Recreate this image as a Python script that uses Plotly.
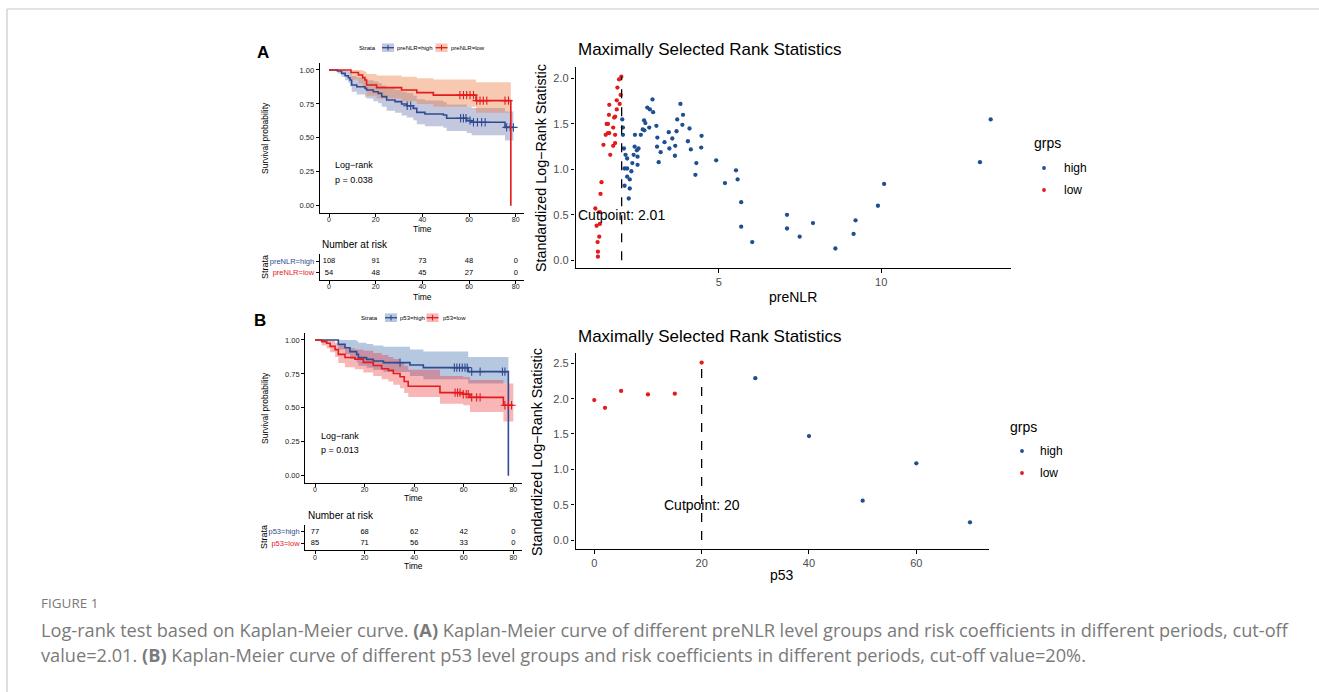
import plotly.graph_objects as go

W, H = 1319, 692
def PX(x): return x / W
def PY(y): return 1 - y / H

FONT = "Liberation Sans, Arial, sans-serif"

# ---------------- Panel A: Kaplan-Meier (preNLR) ----------------
A_high_t = [0, 3.6, 5.4, 6.9, 8.3, 9.0, 9.7, 11.9, 15.4, 16.1, 19.0, 21.1, 22.6, 24.7, 28.3, 31.1, 33.3, 36.1, 37.6, 41.1, 49.0, 50.4, 59.0, 61.1, 75.4, 79.0]
A_high_s = [1.0, 0.993, 0.975, 0.958, 0.943, 0.926, 0.889, 0.877, 0.865, 0.853, 0.840, 0.828, 0.804, 0.779, 0.767, 0.749, 0.737, 0.717, 0.688, 0.676, 0.668, 0.644, 0.627, 0.615, 0.577, 0.577]
A_high_lo = [1.0, 0.975, 0.95, 0.925, 0.905, 0.88, 0.84, 0.82, 0.80, 0.79, 0.77, 0.755, 0.73, 0.70, 0.685, 0.665, 0.65, 0.63, 0.60, 0.585, 0.575, 0.55, 0.535, 0.52, 0.48, 0.48]
A_high_hi = [1.0, 1.0, 1.0, 0.995, 0.99, 0.98, 0.955, 0.945, 0.935, 0.925, 0.915, 0.905, 0.885, 0.865, 0.855, 0.84, 0.83, 0.81, 0.785, 0.775, 0.765, 0.745, 0.73, 0.72, 0.695, 0.695]
A_high_cens = [33.5, 35.0, 56.4, 57.6, 58.7, 60.4, 61.9, 63.6, 65.4, 66.9, 76.1, 77.6, 79.0]

A_low_t = [0, 9.4, 12.6, 14.4, 15.4, 16.1, 20.4, 31.1, 37.6, 44.7, 63.0, 77.9]
A_low_s = [1.0, 0.981, 0.963, 0.944, 0.926, 0.889, 0.870, 0.852, 0.833, 0.815, 0.774, 0.0]
A_low_hi = [1.0, 1.0, 1.0, 0.995, 0.985, 0.97, 0.96, 0.95, 0.94, 0.93, 0.91, 0.91]
A_low_lo = [1.0, 0.93, 0.90, 0.87, 0.85, 0.81, 0.79, 0.77, 0.75, 0.73, 0.685, 0.685]
A_low_cens = [56.1, 57.6, 59.0, 60.4, 61.9, 63.3, 64.7, 66.1, 67.6, 75.4, 76.9]

A_risk_times = [0, 20, 40, 60, 80]
A_risk_high = [108, 91, 73, 48, 0]
A_risk_low = [54, 48, 45, 27, 0]
A_pval = "p = 0.038"

# ---------------- Panel A: maximally selected rank statistics ----------------
A_cut = 2.01
A_rank_low_x = [2.00, 1.93, 1.88, 1.98, 1.86, 1.95, 1.63, 1.86, 1.62, 1.81, 1.78, 1.55, 1.59, 1.75, 1.59, 1.63, 1.52, 1.81, 1.45, 1.75, 1.81, 1.66, 1.39, 1.36, 1.20, 1.34, 1.34, 1.24, 1.32, 1.27, 1.28, 1.28]
A_rank_low_y = [2.02, 1.99, 1.90, 1.82, 1.76, 1.72, 1.71, 1.66, 1.60, 1.58, 1.57, 1.50, 1.50, 1.46, 1.40, 1.40, 1.38, 1.38, 1.27, 1.26, 1.29, 1.16, 0.86, 0.73, 0.57, 0.53, 0.40, 0.38, 0.26, 0.20, 0.095, 0.04]
A_rank_high_x = [2.03, 2.05, 2.05, 2.08, 2.13, 2.18, 2.10, 2.18, 2.10, 2.18, 2.26, 2.26, 2.23, 2.31, 2.34, 2.38, 2.42, 2.41, 2.48, 2.53, 2.50, 2.50, 2.60, 2.66, 2.70, 2.74, 2.71, 2.80, 2.88, 2.98, 2.96, 2.86, 3.08, 3.11, 3.10, 3.15, 3.21, 3.33, 3.46, 3.48, 3.57, 3.66, 3.65, 3.70, 3.72, 3.82, 3.88, 3.90, 4.05, 4.10, 4.14, 4.31, 4.28, 4.47, 4.46, 4.92, 5.19, 5.53, 5.58, 5.69, 5.69, 6.03, 7.10, 7.10, 7.49, 7.90, 8.59, 9.15, 9.21, 9.90, 10.09, 13.04, 13.37]
A_rank_high_y = [1.55, 1.46, 1.38, 1.23, 1.16, 1.12, 1.01, 1.01, 0.82, 0.92, 0.89, 0.79, 0.68, 0.98, 1.07, 1.16, 1.38, 1.25, 1.21, 1.23, 1.05, 1.14, 1.38, 1.44, 1.54, 1.51, 1.43, 1.68, 1.66, 1.63, 1.77, 1.46, 1.48, 1.35, 1.25, 1.08, 1.19, 1.30, 1.41, 1.23, 1.34, 1.26, 1.15, 1.42, 1.55, 1.72, 1.49, 1.60, 1.31, 1.45, 1.22, 1.07, 0.94, 1.37, 1.24, 1.10, 0.85, 0.99, 0.89, 0.64, 0.37, 0.20, 0.50, 0.35, 0.26, 0.41, 0.13, 0.29, 0.44, 0.60, 0.84, 1.08, 1.55]

# ---------------- Panel B: Kaplan-Meier (p53) ----------------
B_high_t = [0, 9.4, 12.1, 14.1, 16.8, 17.5, 20.8, 23.5, 27.6, 38.3, 43.7, 61.8, 78.0]
B_high_s = [1.0, 0.968, 0.943, 0.914, 0.894, 0.870, 0.857, 0.845, 0.833, 0.816, 0.796, 0.767, 0.0]
B_high_hi = [1.0, 1.0, 1.0, 1.0, 0.99, 0.98, 0.97, 0.96, 0.95, 0.93, 0.915, 0.875, 0.875]
B_high_lo = [1.0, 0.93, 0.895, 0.86, 0.835, 0.81, 0.795, 0.78, 0.765, 0.735, 0.71, 0.68, 0.68]
B_high_cens = [34.3, 56.2, 57.2, 58.3, 59.4, 60.5, 61.4, 63.2, 66.6, 75.6, 76.6]

B_low_t = [0, 2.7, 4.7, 6.1, 8.1, 9.4, 12.1, 16.1, 19.5, 23.5, 26.9, 29.6, 31.6, 34.3, 36.0, 37.6, 50.4, 59.8, 62.5, 76.0, 80.0]
B_low_s = [1.0, 0.988, 0.976, 0.953, 0.929, 0.894, 0.871, 0.859, 0.835, 0.812, 0.788, 0.776, 0.753, 0.729, 0.694, 0.659, 0.612, 0.600, 0.577, 0.519, 0.519]
B_low_hi = [1.0, 1.0, 1.0, 0.995, 0.98, 0.96, 0.94, 0.93, 0.92, 0.905, 0.89, 0.875, 0.86, 0.835, 0.81, 0.78, 0.735, 0.725, 0.705, 0.68, 0.68]
B_low_lo = [1.0, 0.96, 0.94, 0.91, 0.875, 0.83, 0.80, 0.785, 0.76, 0.735, 0.71, 0.695, 0.67, 0.645, 0.61, 0.58, 0.53, 0.52, 0.47, 0.40, 0.40]
B_low_cens = [56.5, 57.5, 58.5, 59.8, 61.0, 61.8, 63.2, 65.2, 66.6, 76.6, 78.0, 79.3]

B_risk_times = [0, 20, 40, 60, 80]
B_risk_high = [77, 68, 62, 42, 0]
B_risk_low = [85, 71, 56, 33, 0]
B_pval = "p = 0.013"

# ---------------- Panel B: maximally selected rank statistics ----------------
B_cut = 20
B_rank_x = [0, 2, 5, 10, 15, 20, 30, 40, 50, 60, 70]
B_rank_y = [1.98, 1.87, 2.11, 2.06, 2.07, 2.51, 2.29, 1.47, 0.556, 1.085, 0.25]

# ---------------- colours ----------------
KM_BLUE = "#2E4B8F"
KM_RED = "#E41A1C"
A_BLUE_FILL = "rgba(60,72,150,0.30)"
A_RED_FILL = "rgba(236,120,60,0.40)"
B_BLUE_FILL = "rgba(45,95,165,0.35)"
B_RED_FILL = "rgba(235,45,50,0.35)"
PT_BLUE = "#1D4F91"
PT_RED = "#E41A1C"

fig = go.Figure()

def step_at(ts, ss, t):
    v = ss[0]
    for ti, si in zip(ts, ss):
        if ti <= t:
            v = si
        else:
            break
    return v

def band(t, lo, hi, fill, xa, ya):
    fig.add_trace(go.Scatter(x=t, y=lo, mode="lines", line=dict(width=0, shape="hv"),
                             xaxis=xa, yaxis=ya, showlegend=False, hoverinfo="skip"))
    fig.add_trace(go.Scatter(x=t, y=hi, mode="lines", line=dict(width=0, shape="hv"),
                             fill="tonexty", fillcolor=fill,
                             xaxis=xa, yaxis=ya, showlegend=False, hoverinfo="skip"))

def curve(t, s, cens, color, xa, ya):
    fig.add_trace(go.Scatter(x=t, y=s, mode="lines", line=dict(width=1.6, color=color, shape="hv"),
                             xaxis=xa, yaxis=ya, showlegend=False))
    fig.add_trace(go.Scatter(x=cens, y=[step_at(t, s, c) for c in cens], mode="markers",
                             marker=dict(symbol="cross-thin", size=6, color=color,
                                         line=dict(width=1.1, color=color)),
                             xaxis=xa, yaxis=ya, showlegend=False))

# Panel A KM
band(A_high_t, A_high_lo, A_high_hi, A_BLUE_FILL, "x", "y")
band(A_low_t, A_low_lo, A_low_hi, A_RED_FILL, "x", "y")
curve(A_high_t, A_high_s, A_high_cens, KM_BLUE, "x", "y")
curve(A_low_t, A_low_s, A_low_cens, KM_RED, "x", "y")

# Panel B KM
band(B_high_t, B_high_lo, B_high_hi, B_BLUE_FILL, "x4", "y4")
band(B_low_t, B_low_lo, B_low_hi, B_RED_FILL, "x4", "y4")
curve(B_high_t, B_high_s, B_high_cens, KM_BLUE, "x4", "y4")
curve(B_low_t, B_low_s, B_low_cens, KM_RED, "x4", "y4")

# Risk tables
def risk(times, high, low, xa, ya):
    fig.add_trace(go.Scatter(x=times, y=[2] * len(times), mode="text", text=[str(v) for v in high],
                             textfont=dict(size=7.5, color="black", family=FONT),
                             xaxis=xa, yaxis=ya, showlegend=False))
    fig.add_trace(go.Scatter(x=times, y=[1] * len(times), mode="text", text=[str(v) for v in low],
                             textfont=dict(size=7.5, color="black", family=FONT),
                             xaxis=xa, yaxis=ya, showlegend=False))

risk(A_risk_times, A_risk_high, A_risk_low, "x2", "y2")
risk(B_risk_times, B_risk_high, B_risk_low, "x5", "y5")

# Rank statistic scatter A
fig.add_trace(go.Scatter(x=A_rank_low_x, y=A_rank_low_y, mode="markers",
                         marker=dict(size=4.3, color=PT_RED), xaxis="x3", yaxis="y3", showlegend=False))
fig.add_trace(go.Scatter(x=A_rank_high_x, y=A_rank_high_y, mode="markers",
                         marker=dict(size=4.3, color=PT_BLUE), xaxis="x3", yaxis="y3", showlegend=False))
fig.add_trace(go.Scatter(x=[A_cut, A_cut], y=[0, max(A_rank_low_y + A_rank_high_y)], mode="lines",
                         line=dict(color="black", width=1.3, dash="dash"),
                         xaxis="x3", yaxis="y3", showlegend=False))

# Rank statistic scatter B
B_low_idx = [i for i, v in enumerate(B_rank_x) if v <= B_cut]
B_high_idx = [i for i, v in enumerate(B_rank_x) if v > B_cut]
fig.add_trace(go.Scatter(x=[B_rank_x[i] for i in B_low_idx], y=[B_rank_y[i] for i in B_low_idx],
                         mode="markers", marker=dict(size=4.3, color=PT_RED),
                         xaxis="x6", yaxis="y6", showlegend=False))
fig.add_trace(go.Scatter(x=[B_rank_x[i] for i in B_high_idx], y=[B_rank_y[i] for i in B_high_idx],
                         mode="markers", marker=dict(size=4.3, color=PT_BLUE),
                         xaxis="x6", yaxis="y6", showlegend=False))
fig.add_trace(go.Scatter(x=[B_cut, B_cut], y=[0, max(B_rank_y)], mode="lines",
                         line=dict(color="black", width=1.3, dash="dash"),
                         xaxis="x6", yaxis="y6", showlegend=False))

# ---------------- axes ----------------
def axis(domain, rng, anchor, tickvals=None, ticktext=None, size=7.5, color="#222", lw=1, ticklen=3, standoff=None):
    d = dict(domain=domain, range=rng, anchor=anchor, showline=True, linecolor="black", linewidth=lw,
             ticks="outside", ticklen=ticklen, tickcolor="black", tickwidth=1, showgrid=False,
             zeroline=False, tickfont=dict(size=size, color=color, family=FONT), fixedrange=True)
    if tickvals is not None:
        d["tickvals"] = tickvals
    if ticktext is not None:
        d["ticktext"] = ticktext
    if standoff is not None:
        d["ticklabelstandoff"] = standoff
    return d

km_ticks = [0, 20, 40, 60, 80]
surv_ticks = [0, 0.25, 0.5, 0.75, 1.0]
surv_text = ["0.00", "0.25", "0.50", "0.75", "1.00"]

def lab(txt, col):
    return f"<span style='color:{col}'>{txt}</span>"

fig.update_layout(
    xaxis=axis([PX(319.66), PX(523.9)], [-4, 83.5], "y", km_ticks, size=7, standoff=-3),
    yaxis=axis([PY(212.5), PY(63.2)], [-0.05, 1.05], "x", surv_ticks, surv_text, size=7.5),
    xaxis2=axis([PX(319.66), PX(523.9)], [-4, 83.5], "y2", km_ticks, size=7, standoff=-3),
    yaxis2=axis([PY(279.7), PY(254)], [0.4, 2.6], "x2", [1, 2],
                [lab("preNLR=low", KM_RED), lab("preNLR=high", KM_BLUE)], size=7.5),
    xaxis3=axis([PX(575.5), PX(1010.5)], [0.59, 13.98], "y3", [5, 10], size=11, color="#4D4D4D", lw=1.3, ticklen=3.5),
    yaxis3=axis([PY(268.3), PY(66.7)], [-0.088, 2.13], "x3", [0, 0.5, 1, 1.5, 2],
                ["0.0", "0.5", "1.0", "1.5", "2.0"], size=11, color="#4D4D4D", lw=1.3, ticklen=3.5),
    xaxis4=axis([PX(305.1), PX(522.0)], [-4, 83.5], "y4", km_ticks, size=7, standoff=-3),
    yaxis4=axis([PY(482.5), PY(333.2)], [-0.05, 1.05], "x4", surv_ticks, surv_text, size=7.5),
    xaxis5=axis([PX(305.1), PX(522.0)], [-4, 83.5], "y5", km_ticks, size=7, standoff=-3),
    yaxis5=axis([PY(550.3), PY(524.7)], [0.4, 2.6], "x5", [1, 2],
                [lab("p53=low", KM_RED), lab("p53=high", KM_BLUE)], size=7.5),
    xaxis6=axis([PX(575.5), PX(988.8)], [-3.5, 73.5], "y6", [0, 20, 40, 60], size=11, color="#4D4D4D", lw=1.3, ticklen=3.5),
    yaxis6=axis([PY(548.9), PY(353.0)], [-0.126, 2.646], "x6", [0, 0.5, 1, 1.5, 2, 2.5],
                ["0.0", "0.5", "1.0", "1.5", "2.0", "2.5"], size=11, color="#4D4D4D", lw=1.3, ticklen=3.5),
)

# ---------------- annotations ----------------
ann = []
def T(x, y, text, size, color="black", xanchor="center", yanchor="middle", angle=0, bold=False, family=FONT):
    if bold:
        text = f"<b>{text}</b>"
    ann.append(dict(x=PX(x), y=PY(y), xref="paper", yref="paper", text=text, showarrow=False,
                    font=dict(size=size, color=color, family=family),
                    xanchor=xanchor, yanchor=yanchor, textangle=angle))

# Panel labels
T(263, 53, "A", 17, bold=True)
T(260, 321, "B", 17, bold=True)

# KM texts A
T(265, 138, "Survival probability", 8.5, angle=-90)
T(422, 228.5, "Time", 8.5)
T(333, 165, "Log\u2212rank", 9, xanchor="left")
T(333, 180, A_pval, 9, xanchor="left")
# Risk A
T(320, 244, "Number at risk", 10, xanchor="left")
T(265, 267, "Strata", 9, angle=-90)
T(422, 296.5, "Time", 8.5)

# KM texts B
T(265, 408, "Survival probability", 8.5, angle=-90)
T(413.5, 498, "Time", 8.5)
T(319, 436, "Log\u2212rank", 9, xanchor="left")
T(319, 450, B_pval, 9, xanchor="left")
# Risk B
T(306, 515, "Number at risk", 10, xanchor="left")
T(264, 537, "Strata", 9, angle=-90)
T(413.5, 566, "Time", 8.5)

# Rank plot A
T(576, 50, "Maximally Selected Rank Statistics", 17, xanchor="left")
T(541, 168, "Standardized Log\u2212Rank Statistic", 14.3, angle=-90)
T(793, 297, "preNLR", 14)
ann.append(dict(x=A_cut, y=0.5, xref="x3", yref="y3", text=f"Cutpoint: {A_cut}", showarrow=False,
                font=dict(size=14, color="black", family=FONT), xanchor="center", yanchor="middle"))
T(1032, 143, "grps", 14, xanchor="left")
T(1062, 168, "high", 12, xanchor="left")
T(1062, 190, "low", 12, xanchor="left")

# Rank plot B
T(576, 337, "Maximally Selected Rank Statistics", 17, xanchor="left")
T(537, 452, "Standardized Log\u2212Rank Statistic", 14.3, angle=-90)
T(782, 575, "p53", 14)
ann.append(dict(x=B_cut, y=0.5, xref="x6", yref="y6", text=f"Cutpoint: {B_cut}", showarrow=False,
                font=dict(size=14, color="black", family=FONT), xanchor="center", yanchor="middle"))
T(1008, 427, "grps", 14, xanchor="left")
T(1038, 451, "high", 12, xanchor="left")
T(1038, 473, "low", 12, xanchor="left")

# KM legends
T(378, 47.7, "Strata", 6, xanchor="right")
T(395, 47.7, "preNLR=high", 6, xanchor="left")
T(449, 47.7, "preNLR=low", 6, xanchor="left")
T(380, 317.7, "Strata", 6, xanchor="right")
T(397.5, 317.7, "p53=high", 6, xanchor="left")
T(440.5, 317.7, "p53=low", 6, xanchor="left")

# Caption
CAP = "Open Sans, Noto Sans, sans-serif"
CAP_COL = "#7a7a7a"
T(39, 603, "FIGURE 1", 13.5, color=CAP_COL, xanchor="left", family=CAP)
T(39, 630, "Log-rank test based on Kaplan-Meier curve. <b>(A)</b> Kaplan-Meier curve of different preNLR level groups and risk coefficients in different periods, cut-off",
  18.2, color=CAP_COL, xanchor="left", family=CAP)
T(39, 655, "value=2.01. <b>(B)</b> Kaplan-Meier curve of different p53 level groups and risk coefficients in different periods, cut-off value=20%.",
  18.2, color=CAP_COL, xanchor="left", family=CAP)

# ---------------- shapes (frame + legend keys) ----------------
shapes = []
def line(x0, y0, x1, y1, color, width=1):
    shapes.append(dict(type="line", xref="paper", yref="paper", x0=PX(x0), y0=PY(y0), x1=PX(x1), y1=PY(y1),
                       line=dict(color=color, width=width)))
def rect(x0, y0, x1, y1, fill):
    shapes.append(dict(type="rect", xref="paper", yref="paper", x0=PX(x0), y0=PY(y0), x1=PX(x1), y1=PY(y1),
                       fillcolor=fill, line=dict(width=0)))
def dot(cx, cy, r, color):
    shapes.append(dict(type="circle", xref="paper", yref="paper", x0=PX(cx - r), y0=PY(cy + r),
                       x1=PX(cx + r), y1=PY(cy - r), fillcolor=color, line=dict(width=0)))

# frame
line(7, 9, 1319, 9, "#c8c8c8", 1.2)
line(7, 9, 7, 692, "#c8c8c8", 1.2)

def key(x0, x1, yc, fill, color):
    rect(x0, yc - 4.3, x1, yc + 4.3, fill)
    line(x0, yc, x1, yc, color, 1.3)
    xc = (x0 + x1) / 2
    line(xc, yc - 2.8, xc, yc + 2.8, color, 1.1)

key(382, 394, 47.7, A_BLUE_FILL, KM_BLUE)
key(435.5, 447.5, 47.7, A_RED_FILL, KM_RED)
key(385, 397, 317.7, B_BLUE_FILL, KM_BLUE)
key(426.5, 438.5, 317.7, B_RED_FILL, KM_RED)

dot(1044, 168, 1.9, PT_BLUE)
dot(1044, 190, 1.9, PT_RED)
dot(1022, 451, 1.9, PT_BLUE)
dot(1022, 473, 1.9, PT_RED)

fig.update_layout(
    width=W, height=H, autosize=False,
    margin=dict(l=0, r=0, t=0, b=0),
    paper_bgcolor="white", plot_bgcolor="white",
    font=dict(family=FONT, color="black"),
    annotations=ann, shapes=shapes, showlegend=False,
)

fig.write_html("out.html")
